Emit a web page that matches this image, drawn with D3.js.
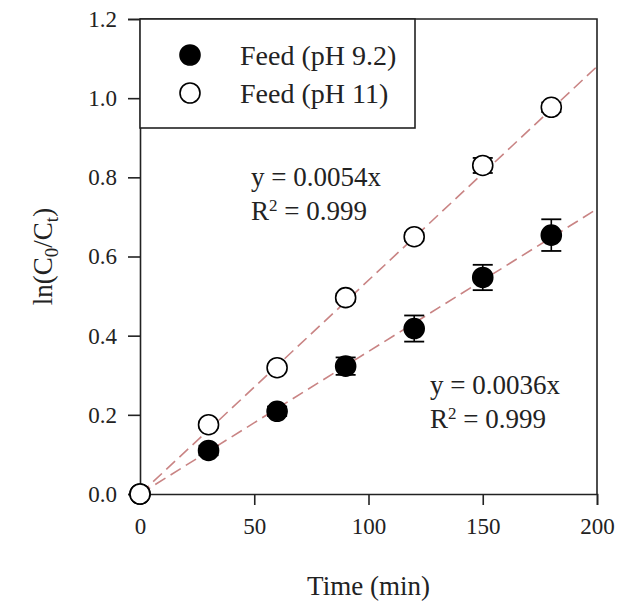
<!DOCTYPE html>
<html><head><meta charset="utf-8">
<script src="https://cdn.jsdelivr.net/npm/d3@7"></script>
<style>
html,body{margin:0;padding:0;background:#fff;}
svg{display:block;font-family:"Liberation Serif","Times New Roman",serif;}
</style></head>
<body>
<svg id="chart" width="634" height="602"></svg>
<script>
// ---- data ----
const times = [0, 30, 60, 90, 120, 150, 180];
const feed92 = [0, 0.110, 0.209, 0.323, 0.418, 0.547, 0.654];
const feed92Err = [0, 0.012, 0.012, 0.022, 0.033, 0.032, 0.040];
const feed11 = [0, 0.175, 0.319, 0.496, 0.650, 0.830, 0.977];
const feed11Err = [0, 0.008, 0.008, 0.010, 0.010, 0.019, 0.012];
const slope92 = 0.0036, slope11 = 0.0054;
const xTicks = [0, 50, 100, 150, 200];
const yTicks = [0.0, 0.2, 0.4, 0.6, 0.8, 1.0, 1.2];
const legendLabels = ["Feed (pH 9.2)", "Feed (pH 11)"];

const svg = d3.select("#chart");
const mL = 140, mR = 597, mT = 19, mB = 494;
const x = d3.scaleLinear().domain([0, 200]).range([mL, mR]);
const y = d3.scaleLinear().domain([0, 1.2]).range([mB, mT]);
const axisColor = "#222";

// frame (top and right)
svg.append("path")
  .attr("d", `M${mL},${mT}H${mR}V${mB}`)
  .attr("fill", "none").attr("stroke", axisColor).attr("stroke-width", 1.6);

// axes
const yAxis = svg.append("g").attr("transform", `translate(${mL},0)`)
  .call(d3.axisLeft(y).tickValues(yTicks).tickFormat(d3.format(".1f")).tickSize(12).tickPadding(11));
const xAxis = svg.append("g").attr("transform", `translate(0,${mB})`)
  .call(d3.axisBottom(x).tickValues(xTicks).tickFormat(d3.format("d")).tickSize(11).tickPadding(13));
[yAxis, xAxis].forEach(g => {
  g.select(".domain").attr("stroke", axisColor).attr("stroke-width", 1.6);
  g.selectAll(".tick line").attr("stroke", axisColor).attr("stroke-width", 1.6);
  g.selectAll(".tick text").attr("fill", "#222").style("font-size", "23px")
    .style("font-family", '"Liberation Serif","Times New Roman",serif');
});

// regression lines
const lineColor = "#c98484";
[slope11, slope92].forEach(s => {
  svg.append("line")
    .attr("x1", x(0)).attr("y1", y(0))
    .attr("x2", x(200)).attr("y2", y(s * 200))
    .attr("stroke", lineColor).attr("stroke-width", 1.6)
    .attr("stroke-dasharray", "12,6");
});

// points with error bars
function drawSeries(vals, errs, filled) {
  const g = svg.append("g");
  times.forEach((t, i) => {
    const cx = x(t), e = errs[i];
    if (e > 0) {
      const y1 = y(vals[i] + e), y2 = y(vals[i] - e);
      g.append("line").attr("x1", cx).attr("x2", cx).attr("y1", y1).attr("y2", y2)
        .attr("stroke", "#000").attr("stroke-width", 1.6);
      [y1, y2].forEach(yy => g.append("line")
        .attr("x1", cx - 10).attr("x2", cx + 10).attr("y1", yy).attr("y2", yy)
        .attr("stroke", "#000").attr("stroke-width", 1.8));
    }
    g.append("circle").attr("cx", cx).attr("cy", y(vals[i])).attr("r", 10)
      .attr("fill", filled ? "#000" : "#fff").attr("stroke", "#000").attr("stroke-width", 1.6);
  });
}
drawSeries(feed92, feed92Err, true);
drawSeries(feed11, feed11Err, false);

// legend
svg.append("rect").attr("x", mL).attr("y", mT).attr("width", 415 - mL).attr("height", 128 - mT)
  .attr("fill", "#fff").attr("stroke", axisColor).attr("stroke-width", 1.6);
const legY = [55, 93];
legendLabels.forEach((lab, i) => {
  svg.append("circle").attr("cx", 190).attr("cy", legY[i]).attr("r", 10)
    .attr("fill", i === 0 ? "#000" : "#fff").attr("stroke", "#000").attr("stroke-width", 1.6);
  svg.append("text").attr("x", 240).attr("y", legY[i] + 10)
    .style("font-size", "28px").attr("fill", "#222").text(lab);
});

// equations
function eq(xp, yp, slope) {
  svg.append("text").attr("x", xp).attr("y", yp).style("font-size", "27px").attr("fill", "#222")
    .text(`y = ${slope.toFixed(4)}x`);
  const t = svg.append("text").attr("x", xp).attr("y", yp + 34).style("font-size", "27px").attr("fill", "#222");
  t.append("tspan").text("R");
  t.append("tspan").attr("dy", -9).style("font-size", "17px").text("2");
  t.append("tspan").attr("dy", 9).text(" = 0.999");
}
eq(251, 186, slope11);
eq(430, 394, slope92);

// axis titles
svg.append("text").attr("x", (mL + mR) / 2).attr("y", 595).attr("text-anchor", "middle")
  .style("font-size", "27px").attr("fill", "#222").text("Time (min)");
const yl = svg.append("text").attr("transform", `translate(52,${(mT + mB) / 2}) rotate(-90)`)
  .attr("text-anchor", "middle").style("font-size", "27px").attr("fill", "#222");
yl.append("tspan").text("ln(C");
yl.append("tspan").attr("dy", 6).style("font-size", "19px").text("0");
yl.append("tspan").attr("dy", -6).text("/C");
yl.append("tspan").attr("dy", 6).style("font-size", "19px").text("t");
yl.append("tspan").attr("dy", -6).text(")");
</script>
</body></html>
